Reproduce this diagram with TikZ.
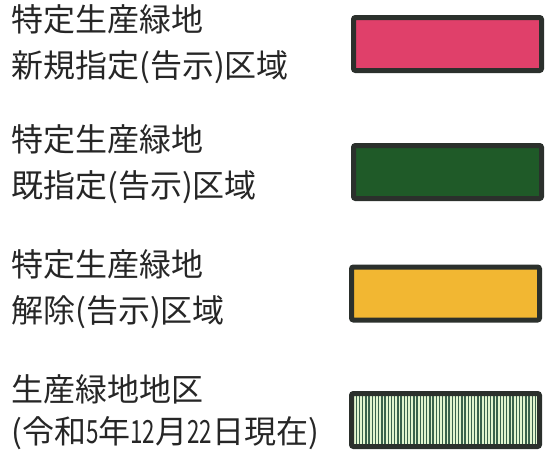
\documentclass[tikz,border=0pt]{standalone}
\usepackage{graphicx}
\usepackage{fontspec}
\newfontfamily\jpfont{Noto Sans CJK JP}
\newcommand\narrownum[1]{\scalebox{0.7}[1]{#1}}
\definecolor{keyedge}{HTML}{2B302C}
\definecolor{keypink}{HTML}{E0406A}
\definecolor{keygreen}{HTML}{1F5A28}
\definecolor{keyyellow}{HTML}{F2B732}
\definecolor{stripelight}{HTML}{E2F5CF}
\definecolor{stripedark}{HTML}{3A624C}
\tikzset{
  keybox/.style={draw=keyedge, line width=5pt, rounded corners=2pt,
    minimum width=188pt, minimum height=53pt, inner sep=0pt},
  keylabel/.style={anchor=west, align=left, inner sep=0pt, text=black!85,
    font=\jpfont\fontsize{32}{46}\selectfont},
}
\begin{document}
\begin{tikzpicture}[x=1pt, y=-1pt]
    \useasboundingbox (0,0) rectangle (546,450);

    % legend boxes
    \node[keybox, fill=keypink] (key1) at (447.5,44) {};
    \node[keybox, fill=keygreen] (key2) at (447.5,172) {};
    \node[keybox, fill=keyyellow] (key3) at (445.5,293.5) {};
    \node[keybox, fill=stripelight, path picture={
        \foreach \i in {1.6,4.8,...,190}
          \draw[stripedark, line width=1.4pt]
            ([xshift=\i pt]path picture bounding box.south west) --
            ([xshift=\i pt]path picture bounding box.north west);
      }] (key4) at (445.5,420) {};

    % labels
    \node[keylabel] (lab1) at (11,44) {特定生産緑地\\新規指定(告示)区域};
    \node[keylabel] (lab2) at (11,164) {特定生産緑地\\既指定(告示)区域};
    \node[keylabel] (lab3) at (11,289) {特定生産緑地\\解除(告示)区域};
    \node[keylabel] (lab4) at (11,412) {生産緑地地区\\[-4pt](令和\narrownum{5}年\narrownum{12}月\narrownum{22}日現在)};
\end{tikzpicture}
\end{document}
